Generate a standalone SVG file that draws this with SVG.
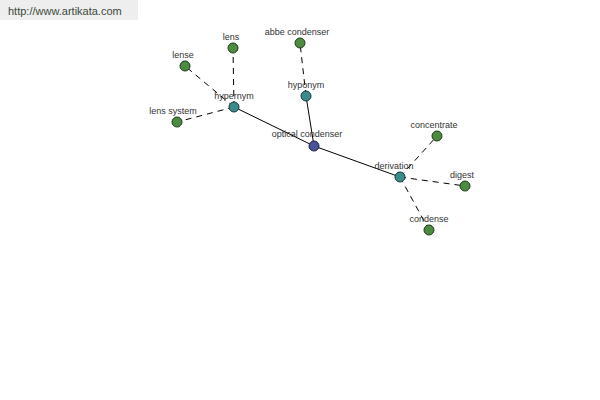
<svg xmlns="http://www.w3.org/2000/svg" width="600" height="400" viewBox="0 0 600 400">
<style>
text{font-family:"Liberation Sans",Arial,sans-serif;font-size:9px;fill:#333;text-anchor:middle}
.leaf{fill:#4d8a42;stroke:#1e3a1a;stroke-width:1}
.mid{fill:#3d8a8a;stroke:#1a3a3a;stroke-width:1}
.root{fill:#4a5398;stroke:#1e2440;stroke-width:1}
.solid{stroke:#000;stroke-width:1;fill:none}
.dash{stroke:#000;stroke-width:1;fill:none;stroke-dasharray:6,5}
</style>
<rect x="0" y="0" width="138" height="20" fill="#eeeeee"/>
<text x="8" y="15" style="font-size:11px;text-anchor:start;fill:#3a4a3a">http://www.artikata.com</text>
<g id="connectors">
<line class="solid" x1="314" y1="146" x2="234" y2="107"/>
<line class="solid" x1="314" y1="146" x2="306" y2="96"/>
<line class="solid" x1="314" y1="146" x2="400" y2="177"/>
<line class="dash" x1="234" y1="107" x2="233" y2="48"/>
<line class="dash" x1="234" y1="107" x2="185" y2="66"/>
<line class="dash" x1="234" y1="107" x2="177" y2="122"/>
<line class="dash" x1="306" y1="96" x2="300" y2="43"/>
<line class="dash" x1="400" y1="177" x2="437" y2="136"/>
<line class="dash" x1="400" y1="177" x2="465" y2="186"/>
<line class="dash" x1="400" y1="177" x2="429" y2="230"/>
</g>
<g id="optical-condenser"><circle class="root" cx="314" cy="146" r="5"/><text x="307" y="137">optical condenser</text></g>
<g id="hypernym"><circle class="mid" cx="234" cy="107" r="5"/><text x="234" y="99">hypernym</text></g>
<g id="hyponym"><circle class="mid" cx="306" cy="96" r="5"/><text x="306" y="88">hyponym</text></g>
<g id="derivation"><circle class="mid" cx="400" cy="177" r="5"/><text x="394" y="169">derivation</text></g>
<g id="lens"><circle class="leaf" cx="233" cy="48" r="5"/><text x="231" y="40">lens</text></g>
<g id="lense"><circle class="leaf" cx="185" cy="66" r="5"/><text x="183" y="58">lense</text></g>
<g id="lens-system"><circle class="leaf" cx="177" cy="122" r="5"/><text x="173" y="114">lens system</text></g>
<g id="abbe-condenser"><circle class="leaf" cx="300" cy="43" r="5"/><text x="297" y="35">abbe condenser</text></g>
<g id="concentrate"><circle class="leaf" cx="437" cy="136" r="5"/><text x="434" y="128">concentrate</text></g>
<g id="digest"><circle class="leaf" cx="465" cy="186" r="5"/><text x="462" y="178">digest</text></g>
<g id="condense"><circle class="leaf" cx="429" cy="230" r="5"/><text x="429" y="222">condense</text></g>
</svg>
